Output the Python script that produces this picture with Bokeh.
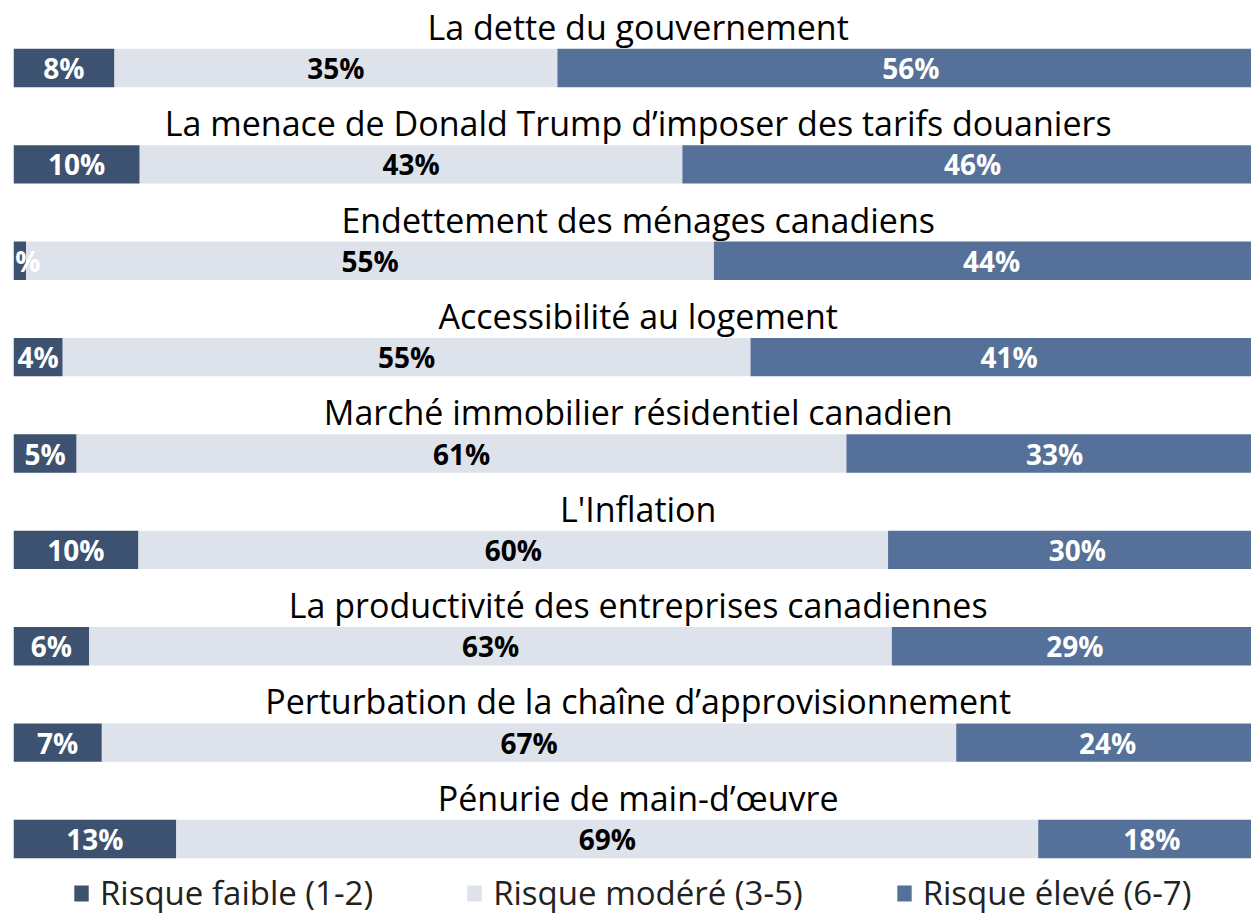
from bokeh.plotting import figure
from bokeh.models import Range1d, ColumnDataSource, Legend, LegendItem
from bokeh.embed import file_html
from bokeh.resources import INLINE
from bokeh.core.properties import value

# ---------------- data ----------------
categories = [
    "La dette du gouvernement",
    "La menace de Donald Trump d\u2019imposer des tarifs douaniers",
    "Endettement des ménages canadiens",
    "Accessibilité au logement",
    "Marché immobilier résidentiel canadien",
    "L'Inflation",
    "La productivité des entreprises canadiennes",
    "Perturbation de la chaîne d\u2019approvisionnement",
    "Pénurie de main-d\u2019œuvre",
]
low = [8.0, 10.0, 1.0, 3.9, 5.0, 9.9, 6.0, 7.0, 12.9]
moderate = [35.1, 43.0, 54.5, 54.5, 61.0, 59.4, 63.6, 67.7, 68.3]
high = [56, 46, 44, 41, 33, 30, 29, 24, 18]
low_labels = ["8%", "10%", "1%", "4%", "5%", "10%", "6%", "7%", "13%"]
moderate_labels = ["35%", "43%", "55%", "55%", "61%", "60%", "63%", "67%", "69%"]
high_labels = ["56%", "46%", "44%", "41%", "33%", "30%", "29%", "24%", "18%"]
series_names = ["Risque faible (1-2)", "Risque modéré (3-5)", "Risque élevé (6-7)"]

# ---------------- styling ----------------
C_LOW = "#3D5170"
C_MOD = "#DDE2EB"
C_HIGH = "#567199"
FONT = "Open Sans"

W, H = 1251, 915
BORDER_L = 13
PX_PER_PCT = 12.62
PITCH = 96.375
FIRST_CENTER = 67.5
BAR_H = 38.4 / PITCH
TITLE_GAP = 22 / PITCH
TITLE_X = 49.5

n = len(categories)
rows = list(range(n))
l0 = [0.0] * n
l1 = low[:]
l2 = [a + b for a, b in zip(low, moderate)]
l3 = [a + b for a, b in zip(l2, high)]

src = ColumnDataSource(dict(
    row=rows, cat=categories,
    l0=l0, l1=l1, l2=l2, l3=l3,
    c_low=[(a + b) / 2 for a, b in zip(l0, l1)],
    c_mod=[(a + b) / 2 for a, b in zip(l1, l2)],
    c_high=[(a + b) / 2 for a, b in zip(l2, l3)],
    lab_low=low_labels, lab_mod=moderate_labels, lab_high=high_labels,
    title_x=[TITLE_X] * n,
    title_y=[r - BAR_H / 2 - TITLE_GAP for r in rows],
))

x_end = (W - BORDER_L) / PX_PER_PCT
y_top = -FIRST_CENTER / PITCH
y_bot = (H - FIRST_CENTER) / PITCH

p = figure(width=W, height=H, x_range=Range1d(0, x_end), y_range=Range1d(y_bot, y_top),
           output_backend="svg", toolbar_location=None,
           x_axis_location=None, y_axis_location=None,
           min_border_left=BORDER_L, min_border_right=0, min_border_top=0, min_border_bottom=0)
p.grid.visible = False
p.outline_line_color = None
p.background_fill_color = "white"

r_low = p.hbar(y="row", left="l0", right="l1", height=BAR_H, source=src,
               fill_color=C_LOW, line_color=None)
r_mod = p.hbar(y="row", left="l1", right="l2", height=BAR_H, source=src,
               fill_color=C_MOD, line_color=None)
r_high = p.hbar(y="row", left="l2", right="l3", height=BAR_H, source=src,
                fill_color=C_HIGH, line_color=None)

common = dict(source=src, y="row", text_align="center", text_baseline="middle",
              text_font=value(FONT), text_font_style="bold", text_font_size="28px")
p.text(x="c_low", text="lab_low", text_color="white", **common)
p.text(x="c_mod", text="lab_mod", text_color="black", **common)
p.text(x="c_high", text="lab_high", text_color="white", **common)

p.text(x="title_x", y="title_y", text="cat", source=src, text_align="center",
       text_baseline="alphabetic", text_color="black",
       text_font=value(FONT), text_font_size="34px")

legend = Legend(items=[LegendItem(label=series_names[0], renderers=[r_low]),
                       LegendItem(label=series_names[1], renderers=[r_mod]),
                       LegendItem(label=series_names[2], renderers=[r_high])],
                orientation="horizontal", location=(59, 0),
                spacing=92, glyph_width=18, glyph_height=20, label_standoff=10,
                label_text_font=FONT, label_text_font_size="33px", label_text_color="#222222",
                border_line_alpha=0, background_fill_alpha=0, padding=0, margin=0)
p.add_layout(legend)

open("out.html", "w").write(file_html(p, INLINE))
